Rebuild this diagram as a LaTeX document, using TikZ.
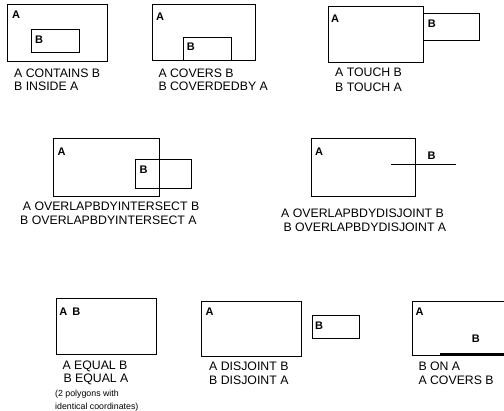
\documentclass[tikz,border=0pt]{standalone}
\usepackage{fontspec}
\setmainfont{Liberation Sans}
\begin{document}
\begin{tikzpicture}[x=1pt,y=-1pt,
  poly/.style={draw=black,line width=0.9pt},
  lbl/.style={inner sep=0pt,anchor=north west,font=\fontsize{11}{12}\selectfont\bfseries},
  captxt/.style={inner sep=0pt,anchor=base west,font=\fontsize{12.3}{14}\selectfont},
  smallcaptxt/.style={inner sep=0pt,anchor=base west,font=\fontsize{8.8}{10}\selectfont}]
\useasboundingbox (0,0) rectangle (504,411);
% Panel 1: contains
\draw[poly] (7.7,4.3) rectangle (107,61);
\draw[poly] (31,29) rectangle (79,52);
\node[lbl] (a1) at (12,11) {A};
\node[lbl] (b1) at (35,35.7) {B};
\node[captxt] (c1a) at (14,77.3) {A CONTAINS B};
\node[captxt] (c1b) at (14,90.7) {B INSIDE A};
% Panel 2: covers
\draw[poly] (152,4) rectangle (255,60);
\draw[poly] (183,37) rectangle (231,60);
\node[lbl] (a2) at (156,12.3) {A};
\node[lbl] (b2) at (186.7,42.7) {B};
\node[captxt] (c2a) at (158.3,77.5) {A COVERS B};
\node[captxt] (c2b) at (158.3,91) {B COVERDEDBY A};
% Panel 3: touch
\draw[poly] (328,6) rectangle (423,62);
\draw[poly] (423,13) rectangle (479,40);
\node[lbl] (a3) at (331,14.3) {A};
\node[lbl] (b3) at (427.7,20) {B};
\node[captxt] (c3a) at (335,76.3) {A TOUCH B};
\node[captxt] (c3b) at (335,92) {B TOUCH A};
% Panel 4: overlap intersect
\draw[poly] (53,138) rectangle (159,196);
\draw[poly] (135,159) rectangle (191,188);
\node[lbl] (a4) at (57.3,147.3) {A};
\node[lbl] (b4) at (139.3,165.7) {B};
\node[captxt] (c4a) at (22.7,211) {A OVERLAPBDYINTERSECT B};
\node[captxt] (c4b) at (20,224.4) {B OVERLAPBDYINTERSECT A};
% Panel 5: overlap disjoint
\draw[poly] (311,138) rectangle (415,196);
\coordinate (l5s) at (391,164);
\coordinate (l5e) at (456,164);
\draw[poly] (l5s) -- (l5e);
\node[lbl] (a5) at (315,147.3) {A};
\node[lbl] (b5) at (427.3,152) {B};
\node[captxt] (c5a) at (281,218) {A OVERLAPBDYDISJOINT B};
\node[captxt] (c5b) at (283.3,231.4) {B OVERLAPBDYDISJOINT A};
% Panel 6: equal
\draw[poly] (56,298.3) rectangle (156,354);
\node[lbl] (ab6) at (59.3,307.3) {A\hspace{0.45em}B};
\node[captxt] (c6a) at (62.3,369.7) {A EQUAL B};
\node[captxt] (c6b) at (63.3,383) {B EQUAL A};
\node[smallcaptxt] (c6c) at (55,396.5) {(2 polygons with};
\node[smallcaptxt] (c6d) at (55,409.3) {identical coordinates)};
% Panel 7: disjoint
\draw[poly] (201,301) rectangle (301,356);
\draw[poly] (312,315) rectangle (359,338);
\node[lbl] (a7) at (205.3,308) {A};
\node[lbl] (b7) at (315,321.7) {B};
\node[captxt] (c7a) at (209,371) {A DISJOINT B};
\node[captxt] (c7b) at (209,384.4) {B DISJOINT A};
% Panel 8: on
\draw[poly] (506,301) -- (412,301) -- (412,355.5) -- (506,355.5);
\coordinate (l8s) at (440,354.5);
\coordinate (l8e) at (506,354.5);
\draw[line width=3pt] (l8s) -- (l8e);
\node[lbl] (a8) at (415.3,308) {A};
\node[lbl] (b8) at (471.7,334.3) {B};
\node[captxt] (c8a) at (418.3,371) {B ON A};
\node[captxt] (c8b) at (418.3,384.4) {A COVERS B};
\end{tikzpicture}
\end{document}
